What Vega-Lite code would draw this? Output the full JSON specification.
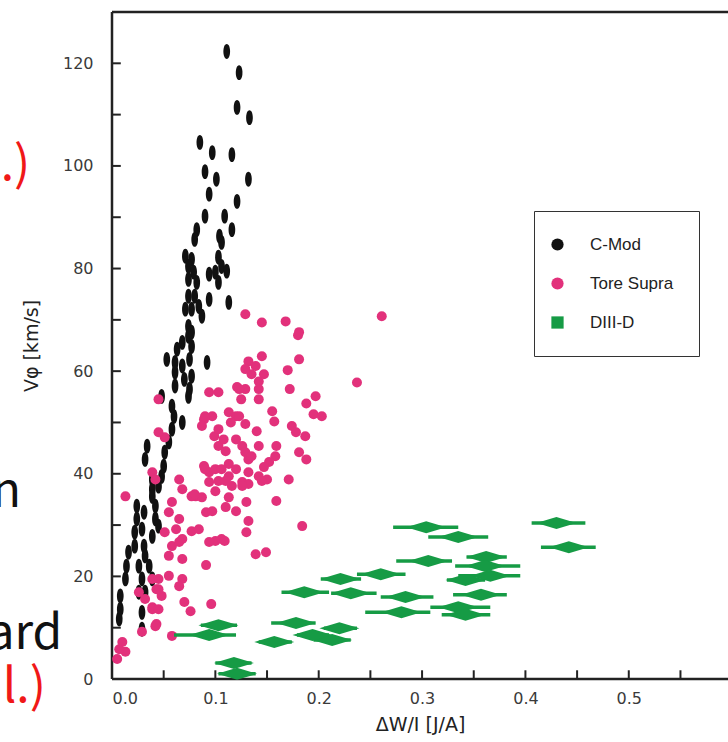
{
  "$schema": "https://vega.github.io/schema/vega-lite/v6.json",
  "width": 616,
  "height": 667,
  "autosize": {"type": "none"},
  "padding": {"left": 112, "top": 12, "right": 0, "bottom": 63},
  "background": "white",
  "datasets": {
    "cmod": [
      {"x":0.111,"y":122.3},{"x":0.123,"y":118.2},{"x":0.121,"y":111.4},{"x":0.133,"y":109.4},{"x":0.085,"y":104.6},{"x":0.097,"y":102.6},{"x":0.116,"y":102.2},{"x":0.090,"y":98.9},{"x":0.101,"y":97.4},{"x":0.132,"y":97.4},{"x":0.094,"y":94.5},{"x":0.121,"y":93.1},{"x":0.090,"y":90.2},{"x":0.109,"y":90.2},{"x":0.116,"y":87.6},{"x":0.082,"y":87.6},{"x":0.080,"y":85.7},{"x":0.104,"y":86.3},{"x":0.106,"y":85.1},{"x":0.071,"y":82.4},{"x":0.077,"y":81.8},{"x":0.074,"y":80.4},{"x":0.103,"y":82.2},{"x":0.106,"y":80.4},{"x":0.079,"y":79.3},{"x":0.082,"y":77.3},{"x":0.074,"y":77.9},{"x":0.094,"y":78.9},{"x":0.100,"y":79.3},{"x":0.103,"y":77.3},{"x":0.111,"y":79.5},{"x":0.074,"y":74.6},{"x":0.080,"y":74.6},{"x":0.084,"y":72.6},{"x":0.094,"y":74.0},{"x":0.071,"y":72.1},{"x":0.077,"y":72.1},{"x":0.113,"y":73.4},{"x":0.087,"y":70.7},{"x":0.074,"y":68.7},{"x":0.074,"y":66.8},{"x":0.068,"y":65.6},{"x":0.063,"y":64.3},{"x":0.077,"y":67.6},{"x":0.077,"y":64.8},{"x":0.053,"y":62.3},{"x":0.061,"y":61.7},{"x":0.068,"y":61.0},{"x":0.075,"y":62.3},{"x":0.092,"y":61.7},{"x":0.061,"y":59.8},{"x":0.070,"y":58.4},{"x":0.077,"y":59.0},{"x":0.075,"y":56.5},{"x":0.048,"y":55.1},{"x":0.061,"y":57.1},{"x":0.074,"y":55.1},{"x":0.058,"y":53.2},{"x":0.060,"y":51.2},{"x":0.068,"y":50.0},{"x":0.058,"y":48.7},{"x":0.055,"y":46.2},{"x":0.051,"y":44.2},{"x":0.034,"y":45.4},{"x":0.032,"y":42.8},{"x":0.050,"y":41.5},{"x":0.048,"y":39.5},{"x":0.045,"y":37.6},{"x":0.039,"y":38.9},{"x":0.039,"y":37.0},{"x":0.039,"y":35.6},{"x":0.024,"y":33.7},{"x":0.024,"y":31.2},{"x":0.022,"y":28.6},{"x":0.022,"y":25.9},{"x":0.031,"y":32.5},{"x":0.029,"y":29.2},{"x":0.031,"y":25.9},{"x":0.032,"y":24.0},{"x":0.042,"y":33.7},{"x":0.042,"y":31.2},{"x":0.045,"y":29.8},{"x":0.039,"y":27.8},{"x":0.016,"y":24.7},{"x":0.014,"y":22.0},{"x":0.013,"y":19.5},{"x":0.026,"y":22.0},{"x":0.029,"y":19.5},{"x":0.026,"y":16.9},{"x":0.036,"y":22.0},{"x":0.039,"y":19.5},{"x":0.008,"y":16.2},{"x":0.008,"y":13.6},{"x":0.007,"y":11.7},{"x":0.029,"y":13.0},{"x":0.029,"y":9.7},{"x":0.032,"y":16.9}
    ],
    "tore": [
      {"x":0.129,"y":71.1},{"x":0.145,"y":69.5},{"x":0.168,"y":69.7},{"x":0.180,"y":67.0},{"x":0.261,"y":70.7},{"x":0.181,"y":62.3},{"x":0.132,"y":61.9},{"x":0.145,"y":62.9},{"x":0.139,"y":61.0},{"x":0.147,"y":59.4},{"x":0.135,"y":59.4},{"x":0.142,"y":58.0},{"x":0.129,"y":60.4},{"x":0.170,"y":60.2},{"x":0.172,"y":56.5},{"x":0.237,"y":57.8},{"x":0.197,"y":55.1},{"x":0.188,"y":53.7},{"x":0.195,"y":51.6},{"x":0.203,"y":51.2},{"x":0.094,"y":55.9},{"x":0.103,"y":55.9},{"x":0.121,"y":56.9},{"x":0.129,"y":56.5},{"x":0.142,"y":56.5},{"x":0.125,"y":54.5},{"x":0.142,"y":54.5},{"x":0.155,"y":52.2},{"x":0.157,"y":50.2},{"x":0.089,"y":50.6},{"x":0.097,"y":51.2},{"x":0.087,"y":49.3},{"x":0.113,"y":52.0},{"x":0.120,"y":51.2},{"x":0.115,"y":50.0},{"x":0.129,"y":49.7},{"x":0.140,"y":48.3},{"x":0.174,"y":49.3},{"x":0.178,"y":48.1},{"x":0.187,"y":47.3},{"x":0.099,"y":47.3},{"x":0.103,"y":45.4},{"x":0.108,"y":46.7},{"x":0.110,"y":44.4},{"x":0.120,"y":46.7},{"x":0.126,"y":45.4},{"x":0.129,"y":44.2},{"x":0.132,"y":42.8},{"x":0.142,"y":45.4},{"x":0.135,"y":43.4},{"x":0.159,"y":45.4},{"x":0.158,"y":43.4},{"x":0.152,"y":42.3},{"x":0.181,"y":44.2},{"x":0.188,"y":42.8},{"x":0.089,"y":41.5},{"x":0.094,"y":40.3},{"x":0.100,"y":40.9},{"x":0.113,"y":41.9},{"x":0.120,"y":40.9},{"x":0.113,"y":39.5},{"x":0.132,"y":40.3},{"x":0.126,"y":38.4},{"x":0.142,"y":39.5},{"x":0.147,"y":41.3},{"x":0.150,"y":38.9},{"x":0.171,"y":38.9},{"x":0.094,"y":38.4},{"x":0.103,"y":38.6},{"x":0.116,"y":37.6},{"x":0.132,"y":38.0},{"x":0.081,"y":35.6},{"x":0.100,"y":36.6},{"x":0.110,"y":38.6},{"x":0.145,"y":38.6},{"x":0.077,"y":35.6},{"x":0.087,"y":35.4},{"x":0.113,"y":35.4},{"x":0.130,"y":34.5},{"x":0.159,"y":34.7},{"x":0.091,"y":32.5},{"x":0.097,"y":32.7},{"x":0.110,"y":33.5},{"x":0.120,"y":32.7},{"x":0.132,"y":30.8},{"x":0.130,"y":28.6},{"x":0.184,"y":29.8},{"x":0.062,"y":29.2},{"x":0.077,"y":28.8},{"x":0.084,"y":29.2},{"x":0.100,"y":26.9},{"x":0.106,"y":27.3},{"x":0.068,"y":27.3},{"x":0.058,"y":25.9},{"x":0.055,"y":24.0},{"x":0.068,"y":23.4},{"x":0.139,"y":24.3},{"x":0.149,"y":24.7},{"x":0.091,"y":22.2},{"x":0.045,"y":19.5},{"x":0.055,"y":20.1},{"x":0.068,"y":19.5},{"x":0.043,"y":17.5},{"x":0.048,"y":16.2},{"x":0.070,"y":15.0},{"x":0.076,"y":13.2},{"x":0.096,"y":14.6},{"x":0.043,"y":10.7},{"x":0.058,"y":8.4},{"x":0.039,"y":14.0},{"x":0.045,"y":54.5},{"x":0.123,"y":56.5},{"x":0.051,"y":47.1},{"x":0.045,"y":48.1},{"x":0.090,"y":51.2},{"x":0.103,"y":48.7},{"x":0.123,"y":51.2},{"x":0.039,"y":40.3},{"x":0.042,"y":38.9},{"x":0.065,"y":38.9},{"x":0.068,"y":37.0},{"x":0.080,"y":36.0},{"x":0.090,"y":40.9},{"x":0.106,"y":40.9},{"x":0.126,"y":37.6},{"x":0.013,"y":35.6},{"x":0.055,"y":32.5},{"x":0.058,"y":34.5},{"x":0.065,"y":31.2},{"x":0.051,"y":28.6},{"x":0.065,"y":26.7},{"x":0.094,"y":26.7},{"x":0.109,"y":26.9},{"x":0.039,"y":19.5},{"x":0.065,"y":18.1},{"x":0.026,"y":16.9},{"x":0.032,"y":15.6},{"x":0.045,"y":17.5},{"x":0.039,"y":13.6},{"x":0.045,"y":13.6},{"x":0.042,"y":10.3},{"x":0.029,"y":9.2},{"x":0.010,"y":7.2},{"x":0.013,"y":5.3},{"x":0.007,"y":5.8},{"x":0.005,"y":3.9},{"x":0.181,"y":67.6}
    ],
    "diiid": [
      {"x":0.304,"xlo":0.272,"xhi":0.335,"y":29.6},{"x":0.335,"xlo":0.306,"xhi":0.364,"y":27.7},{"x":0.430,"xlo":0.406,"xhi":0.458,"y":30.4},{"x":0.442,"xlo":0.415,"xhi":0.468,"y":25.7},{"x":0.306,"xlo":0.275,"xhi":0.329,"y":23.0},{"x":0.362,"xlo":0.343,"xhi":0.382,"y":23.8},{"x":0.361,"xlo":0.332,"xhi":0.395,"y":22.0},{"x":0.366,"xlo":0.335,"xhi":0.395,"y":20.1},{"x":0.342,"xlo":0.324,"xhi":0.361,"y":19.3},{"x":0.260,"xlo":0.237,"xhi":0.284,"y":20.4},{"x":0.221,"xlo":0.202,"xhi":0.241,"y":19.5},{"x":0.186,"xlo":0.164,"xhi":0.210,"y":16.9},{"x":0.231,"xlo":0.212,"xhi":0.256,"y":16.7},{"x":0.284,"xlo":0.260,"xhi":0.311,"y":16.0},{"x":0.357,"xlo":0.330,"xhi":0.382,"y":16.4},{"x":0.280,"xlo":0.245,"xhi":0.308,"y":13.0},{"x":0.335,"xlo":0.308,"xhi":0.366,"y":14.0},{"x":0.342,"xlo":0.319,"xhi":0.366,"y":12.5},{"x":0.220,"xlo":0.205,"xhi":0.237,"y":9.9},{"x":0.213,"xlo":0.195,"xhi":0.231,"y":7.6},{"x":0.178,"xlo":0.154,"xhi":0.197,"y":10.9},{"x":0.103,"xlo":0.086,"xhi":0.121,"y":10.5},{"x":0.094,"xlo":0.060,"xhi":0.120,"y":8.6},{"x":0.194,"xlo":0.179,"xhi":0.210,"y":8.6},{"x":0.157,"xlo":0.142,"xhi":0.174,"y":7.2},{"x":0.118,"xlo":0.100,"xhi":0.135,"y":3.1},{"x":0.121,"xlo":0.103,"xhi":0.139,"y":1.0}
    ],
    "series": [{"series":"C-Mod"},{"series":"Tore Supra"},{"series":"DIII-D"}],
    "yticks": [{"v":10},{"v":20},{"v":30},{"v":40},{"v":50},{"v":60},{"v":70},{"v":80},{"v":90},{"v":100},{"v":110},{"v":120}],
    "xticks": [{"u":0.05},{"u":0.1},{"u":0.15},{"u":0.2},{"u":0.25},{"u":0.3},{"u":0.35},{"u":0.4},{"u":0.45},{"u":0.5},{"u":0.55}],
    "notes": [
      {"text":".)","x":-0.079,"y":97.3,"group":"citation"},
      {"text":"n","x":-0.088,"y":33.5,"group":"body"},
      {"text":"ard","x":-0.048,"y":5.8,"group":"body"},
      {"text":"l.)","x":-0.064,"y":-4.5,"group":"citation"}
    ]
  },
  "layer": [
    {
      "data": {"values": [{}]},
      "mark": {"type": "rule", "color": "#222", "strokeWidth": 2.5},
      "encoding": {"y": {"datum": 130, "type": "quantitative", "title": "Vφ [km/s]", "scale": {"domain": [0, 130], "nice": false}}}
    },
    {
      "data": {"values": [{}]},
      "mark": {"type": "rule", "color": "#222", "strokeWidth": 2.5},
      "encoding": {"y": {"datum": 0, "type": "quantitative", "title": "Vφ [km/s]", "scale": {"domain": [0, 130], "nice": false}}}
    },
    {
      "data": {"values": [{}]},
      "mark": {"type": "rule", "color": "#222", "strokeWidth": 2.5},
      "encoding": {"x": {"datum": 0, "type": "quantitative", "title": "ΔW/I [J/A]", "scale": {"domain": [0, 0.596], "nice": false, "zero": true}}}
    },
    {
      "data": {"name": "yticks"},
      "mark": {"type": "rule", "color": "#222", "strokeWidth": 2},
      "encoding": {
        "y": {"field": "v", "type": "quantitative", "title": "Vφ [km/s]", "scale": {"domain": [0, 130], "nice": false}},
        "x": {"datum": 0, "type": "quantitative", "title": "ΔW/I [J/A]", "scale": {"domain": [0, 0.596], "nice": false, "zero": true}},
        "x2": {"datum": 0.0085}
      }
    },
    {
      "data": {"name": "xticks"},
      "mark": {"type": "rule", "color": "#222", "strokeWidth": 2},
      "encoding": {
        "x": {"field": "u", "type": "quantitative", "title": "ΔW/I [J/A]", "scale": {"domain": [0, 0.596], "nice": false, "zero": true}},
        "y": {"datum": 0, "type": "quantitative", "title": "Vφ [km/s]", "scale": {"domain": [0, 130], "nice": false}},
        "y2": {"datum": 1.7}
      }
    },
    {
      "data": {"name": "cmod"},
      "mark": {"type": "point", "filled": true, "opacity": 1, "color": "#111", "size": 220, "shape": "M0,-1C0.6,-1 0.6,1 0,1C-0.6,1 -0.6,-1 0,-1Z"},
      "encoding": {
        "x": {"field": "x", "type": "quantitative", "title": "ΔW/I [J/A]", "scale": {"domain": [0, 0.596], "nice": false, "zero": true},
          "axis": {"title": "ΔW/I [J/A]", "values": [0,0.1,0.2,0.3,0.4,0.5],
            "format": ".1f", "domain": false, "ticks": false, "labelPadding": 11, "titlePadding": 9}},
        "y": {"field": "y", "type": "quantitative", "title": "Vφ [km/s]", "scale": {"domain": [0, 130], "nice": false},
          "axis": {"title": "Vφ [km/s]", "values": [0,20,40,60,80,100,120],
            "domain": false, "ticks": false, "labelPadding": 19, "titlePadding": 21}}
      }
    },
    {
      "data": {"name": "tore"},
      "mark": {"type": "point", "filled": true, "opacity": 1, "color": "#e2317b", "size": 100, "shape": "circle"},
      "encoding": {
        "x": {"field": "x", "type": "quantitative", "title": "ΔW/I [J/A]", "scale": {"domain": [0, 0.596], "nice": false, "zero": true}},
        "y": {"field": "y", "type": "quantitative", "title": "Vφ [km/s]", "scale": {"domain": [0, 130], "nice": false}}
      }
    },
    {
      "data": {"name": "diiid"},
      "mark": {"type": "rule", "color": "#169b45", "strokeWidth": 3.5},
      "encoding": {
        "x": {"field": "xlo", "type": "quantitative", "title": "ΔW/I [J/A]", "scale": {"domain": [0, 0.596], "nice": false, "zero": true}},
        "x2": {"field": "xhi"},
        "y": {"field": "y", "type": "quantitative", "title": "Vφ [km/s]", "scale": {"domain": [0, 130], "nice": false}}
      }
    },
    {
      "data": {"name": "diiid"},
      "mark": {"type": "point", "filled": true, "opacity": 1, "color": "#169b45", "size": 1600, "shape": "M-1,0L0,-0.3L1,0L0,0.3Z"},
      "encoding": {
        "x": {"field": "x", "type": "quantitative", "title": "ΔW/I [J/A]", "scale": {"domain": [0, 0.596], "nice": false, "zero": true}},
        "y": {"field": "y", "type": "quantitative", "title": "Vφ [km/s]", "scale": {"domain": [0, 130], "nice": false}}
      }
    },
    {
      "data": {"name": "series"},
      "mark": {"type": "point", "filled": true, "opacity": 0},
      "encoding": {
        "color": {"field": "series", "type": "nominal",
          "scale": {"domain": ["C-Mod", "Tore Supra", "DIII-D"], "range": ["#111111", "#e2317b", "#169b45"]},
          "legend": {"title": null, "orient": "none", "legendX": 422, "legendY": 199, "strokeColor": "#333", "padding": 25, "rowPadding": 21, "labelOffset": 24, "symbolOffset": -10, "symbolSize": 150, "symbolOpacity": 1, "symbolStrokeWidth": 0, "labelFontSize": 17, "labelFont": "Liberation Sans", "labelColor": "#222", "labelExpr": "datum.label + '                        '"}},
        "shape": {"field": "series", "type": "nominal",
          "scale": {"domain": ["C-Mod", "Tore Supra", "DIII-D"], "range": ["circle", "circle", "square"]},
          "legend": {"title": null, "orient": "none", "legendX": 422, "legendY": 199, "strokeColor": "#333", "padding": 25, "rowPadding": 21, "labelOffset": 24, "symbolOffset": -10, "symbolSize": 150, "symbolOpacity": 1, "symbolStrokeWidth": 0, "labelFontSize": 17, "labelFont": "Liberation Sans", "labelColor": "#222", "labelExpr": "datum.label + '                        '"}}
      }
    },
    {
      "data": {"name": "notes"},
      "mark": {"type": "text", "align": "right", "baseline": "alphabetic", "font": "Noto Sans CJK KR", "fontSize": 48},
      "encoding": {
        "text": {"field": "text"},
        "x": {"field": "x", "type": "quantitative", "title": "ΔW/I [J/A]", "scale": {"domain": [0, 0.596], "nice": false, "zero": true}},
        "y": {"field": "y", "type": "quantitative", "title": "Vφ [km/s]", "scale": {"domain": [0, 130], "nice": false}},
        "color": {"condition": {"test": "datum.group === 'citation'", "value": "#f01818"}, "value": "#111111"}
      }
    }
  ],
  "config": {
    "view": {"stroke": null},
    "axis": {
      "grid": false,
      "labelFont": "DejaVu Sans", "labelFontSize": 16, "labelColor": "#3a3a3a",
      "titleFont": "DejaVu Sans", "titleFontSize": 19, "titleFontWeight": "normal", "titleColor": "#222"
    }
  }
}
